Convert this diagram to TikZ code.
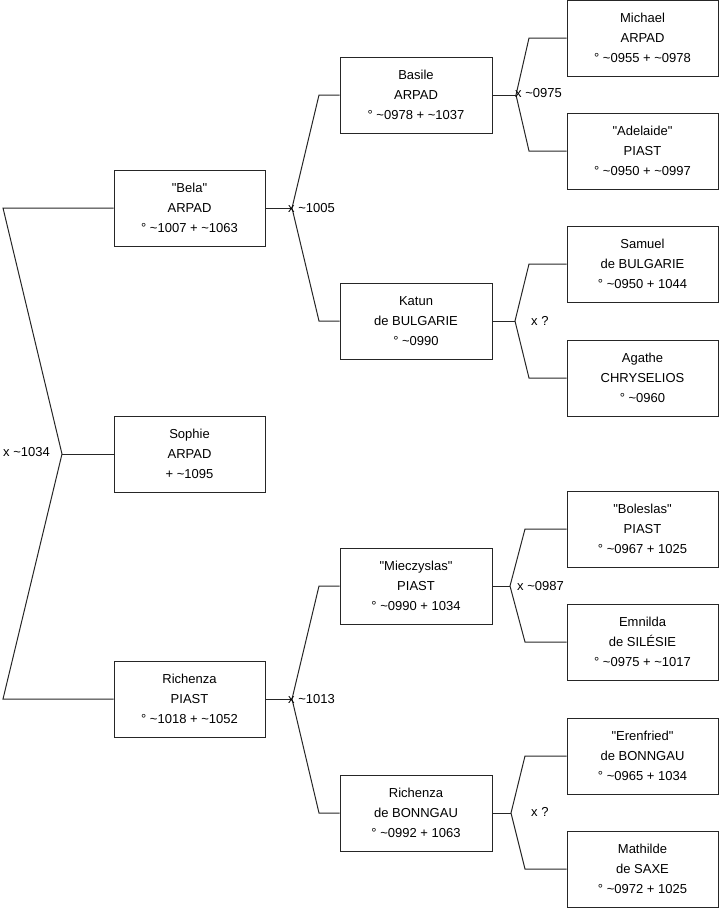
\documentclass[tikz,border=0pt]{standalone}
\usepackage{fontspec}
\setmainfont{Liberation Sans}[Ligatures=TeXOff]
\newcommand{\qq}{\symbol{34}}
\begin{document}
\begin{tikzpicture}[x=1pt,y=-1pt,
  person/.style={draw=black!85,line width=1pt,fill=white,rectangle,minimum width=151pt,minimum height=76pt,align=center,inner sep=0pt,font=\fontsize{13}{20}\selectfont},
  lbl/.style={anchor=west,inner sep=0pt,font=\fontsize{13}{20}\selectfont},
  link/.style={draw=black!85,line width=1pt}]
\useasboundingbox (0,0) rectangle (719,908);
% column 1
\node[person] (bela) at (189.5,208) {\qq Bela\qq\\ARPAD\\° \textasciitilde1007 + \textasciitilde1063};
\node[person] (sophie) at (189.5,454) {Sophie\\ARPAD\\+ \textasciitilde1095};
\node[person] (richenza) at (189.5,699) {Richenza\\PIAST\\° \textasciitilde1018 + \textasciitilde1052};
% column 2
\node[person,minimum width=152pt] (basile) at (416,95) {Basile\\ARPAD\\° \textasciitilde0978 + \textasciitilde1037};
\node[person,minimum width=152pt] (katun) at (416,321) {Katun\\de BULGARIE\\° \textasciitilde0990};
\node[person,minimum width=152pt] (miecz) at (416,586) {\qq Mieczyslas\qq\\PIAST\\° \textasciitilde0990 + 1034};
\node[person,minimum width=152pt] (richb) at (416,813) {Richenza\\de BONNGAU\\° \textasciitilde0992 + 1063};
% column 3
\node[person] (michael) at (642.5,38) {Michael\\ARPAD\\° \textasciitilde0955 + \textasciitilde0978};
\node[person] (adelaide) at (642.5,151) {\qq Adelaide\qq\\PIAST\\° \textasciitilde0950 + \textasciitilde0997};
\node[person] (samuel) at (642.5,264) {Samuel\\de BULGARIE\\° \textasciitilde0950 + 1044};
\node[person] (agathe) at (642.5,378) {Agathe\\CHRYSELIOS\\° \textasciitilde0960};
\node[person] (boleslas) at (642.5,529) {\qq Boleslas\qq\\PIAST\\° \textasciitilde0967 + 1025};
\node[person] (emnilda) at (642.5,642) {Emnilda\\de SILÉSIE\\° \textasciitilde0975 + \textasciitilde1017};
\node[person] (erenfried) at (642.5,756) {\qq Erenfried\qq\\de BONNGAU\\° \textasciitilde0965 + 1034};
\node[person] (mathilde) at (642.5,869) {Mathilde\\de SAXE\\° \textasciitilde0972 + 1025};
% junctions
\coordinate (j0) at (62,454);
\coordinate (r0u) at (3,208);
\coordinate (r0d) at (3,699);
\coordinate (j1) at (292,208);
\coordinate (c1u) at (319,95);
\coordinate (c1d) at (319,321);
\coordinate (j2) at (292,699);
\coordinate (c2u) at (319,586);
\coordinate (c2d) at (319,813);
\coordinate (j3) at (516,95);
\coordinate (c3u) at (529,38);
\coordinate (c3d) at (529,151);
\coordinate (j4) at (515,321);
\coordinate (c4u) at (529,264);
\coordinate (c4d) at (529,378);
\coordinate (j5) at (510,586);
\coordinate (c5u) at (525,529);
\coordinate (c5d) at (525,642);
\coordinate (j6) at (511,813);
\coordinate (c6u) at (525,756);
\coordinate (c6d) at (525,869);
% connectors
\draw[link] (bela.west) -- (r0u) -- (j0) -- (r0d) -- (richenza.west);
\draw[link] (j0) -- (sophie.west);
\draw[link] (bela.east) -- (j1);
\draw[link] (basile.west) -- (c1u) -- (j1) -- (c1d) -- (katun.west);
\draw[link] (richenza.east) -- (j2);
\draw[link] (miecz.west) -- (c2u) -- (j2) -- (c2d) -- (richb.west);
\draw[link] (basile.east) -- (j3);
\draw[link] (michael.west) -- (c3u) -- (j3) -- (c3d) -- (adelaide.west);
\draw[link] (katun.east) -- (j4);
\draw[link] (samuel.west) -- (c4u) -- (j4) -- (c4d) -- (agathe.west);
\draw[link] (miecz.east) -- (j5);
\draw[link] (boleslas.west) -- (c5u) -- (j5) -- (c5d) -- (emnilda.west);
\draw[link] (richb.east) -- (j6);
\draw[link] (erenfried.west) -- (c6u) -- (j6) -- (c6d) -- (mathilde.west);
% labels
\node[lbl] (l0) at (3,452) {x \textasciitilde1034};
\node[lbl] (l1) at (288,208) {x \textasciitilde1005};
\node[lbl] (l2) at (288,699) {x \textasciitilde1013};
\node[lbl] (l3) at (515,93) {x \textasciitilde0975};
\node[lbl] (l4) at (531,321) {x ?};
\node[lbl] (l5) at (517,586) {x \textasciitilde0987};
\node[lbl] (l6) at (531,812) {x ?};
\end{tikzpicture}
\end{document}
